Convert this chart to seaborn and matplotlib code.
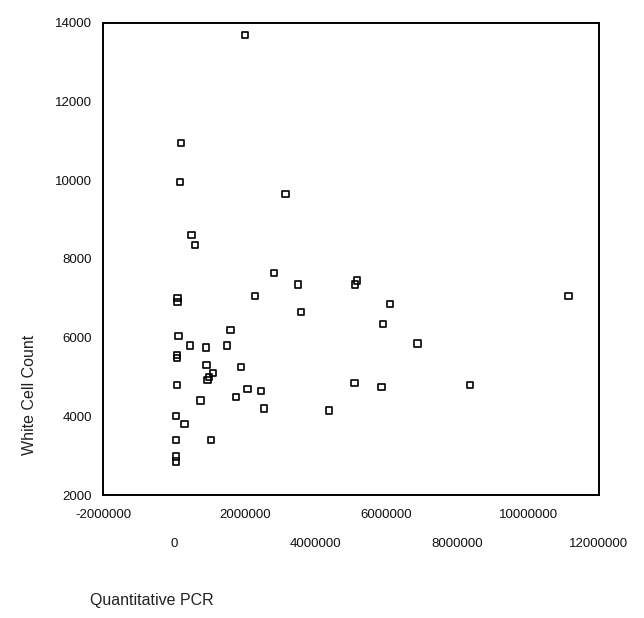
import matplotlib
matplotlib.use("Agg")
import matplotlib.pyplot as plt
import seaborn as sns
import pandas as pd

# Quantitative PCR vs white cell count
pcr = [2000000, 200000, 170000, 3150000, 500000, 600000,
       2820000, 3500000, 2300000, 3590000, 100000, 100000,
       130000, 450000, 900000, 1500000, 1600000, 80000, 80000,
       920000, 1100000, 1000000, 950000, 1900000, 80000,
       750000, 1760000, 2080000, 2450000, 2550000, 4380000,
       50000, 300000, 50000, 1050000, 50000, 50000,
       5170000, 5120000, 6100000, 5900000, 6880000, 5100000,
       5860000, 8370000, 11140000]
wcc = [13700, 10950, 9950, 9650, 8600, 8350,
       7650, 7350, 7050, 6650, 7000, 6900,
       6050, 5800, 5750, 5800, 6200, 5550, 5480,
       5300, 5100, 5000, 4920, 5250, 4800,
       4400, 4500, 4700, 4650, 4200, 4150,
       4000, 3800, 3400, 3400, 2980, 2850,
       7450, 7350, 6850, 6350, 5850, 4850,
       4750, 4800, 7050]

x_ticks = [-2000000, 0, 2000000, 4000000, 6000000, 8000000, 10000000, 12000000]
y_ticks = [2000, 4000, 6000, 8000, 10000, 12000, 14000]

df = pd.DataFrame({"Quantitative PCR": pcr, "White Cell Count": wcc})

sns.set_style("white")
plt.rcParams["font.family"] = ["Liberation Sans", "DejaVu Sans"]

fig = plt.figure(figsize=(6.44, 6.18), dpi=100)
ax = fig.add_axes([0.16, 0.199, 0.77, 0.764])

sns.scatterplot(data=df, x="Quantitative PCR", y="White Cell Count", ax=ax,
                marker="s", s=20, facecolor="none", edgecolor="black",
                linewidth=1.2)

ax.set_xlim(-2000000, 12000000)
ax.set_ylim(2000, 14000)
ax.set_xticks(x_ticks)
ax.set_yticks(y_ticks)
ax.set_xticklabels([str(t) for t in x_ticks])
ax.set_yticklabels([str(t) for t in y_ticks])

# staggered x tick labels, as in the original
for i, lab in enumerate(ax.get_xticklabels()):
    if i % 2 == 1:
        lab.set_y(-0.062)

ax.tick_params(axis="both", direction="out", length=2, width=1.5,
               colors="black", labelsize=9.5)
ax.tick_params(axis="x", pad=8)
ax.tick_params(axis="y", pad=6)
for lab in ax.get_xticklabels() + ax.get_yticklabels():
    lab.set_color("#111111")
for sp in ax.spines.values():
    sp.set_visible(True)
    sp.set_color("black")
    sp.set_linewidth(1.4)

ax.set_xlabel("")
ax.set_ylabel("")
fig.text(30 / 644, 1 - 395 / 618, "White Cell Count", rotation=90,
         ha="center", va="center", fontsize=11.5, color="#222222")
fig.text(152 / 644, 1 - 601 / 618, "Quantitative PCR",
         ha="center", va="center", fontsize=11.5, color="#222222")

fig.savefig("out.png", dpi=100, facecolor="white")
